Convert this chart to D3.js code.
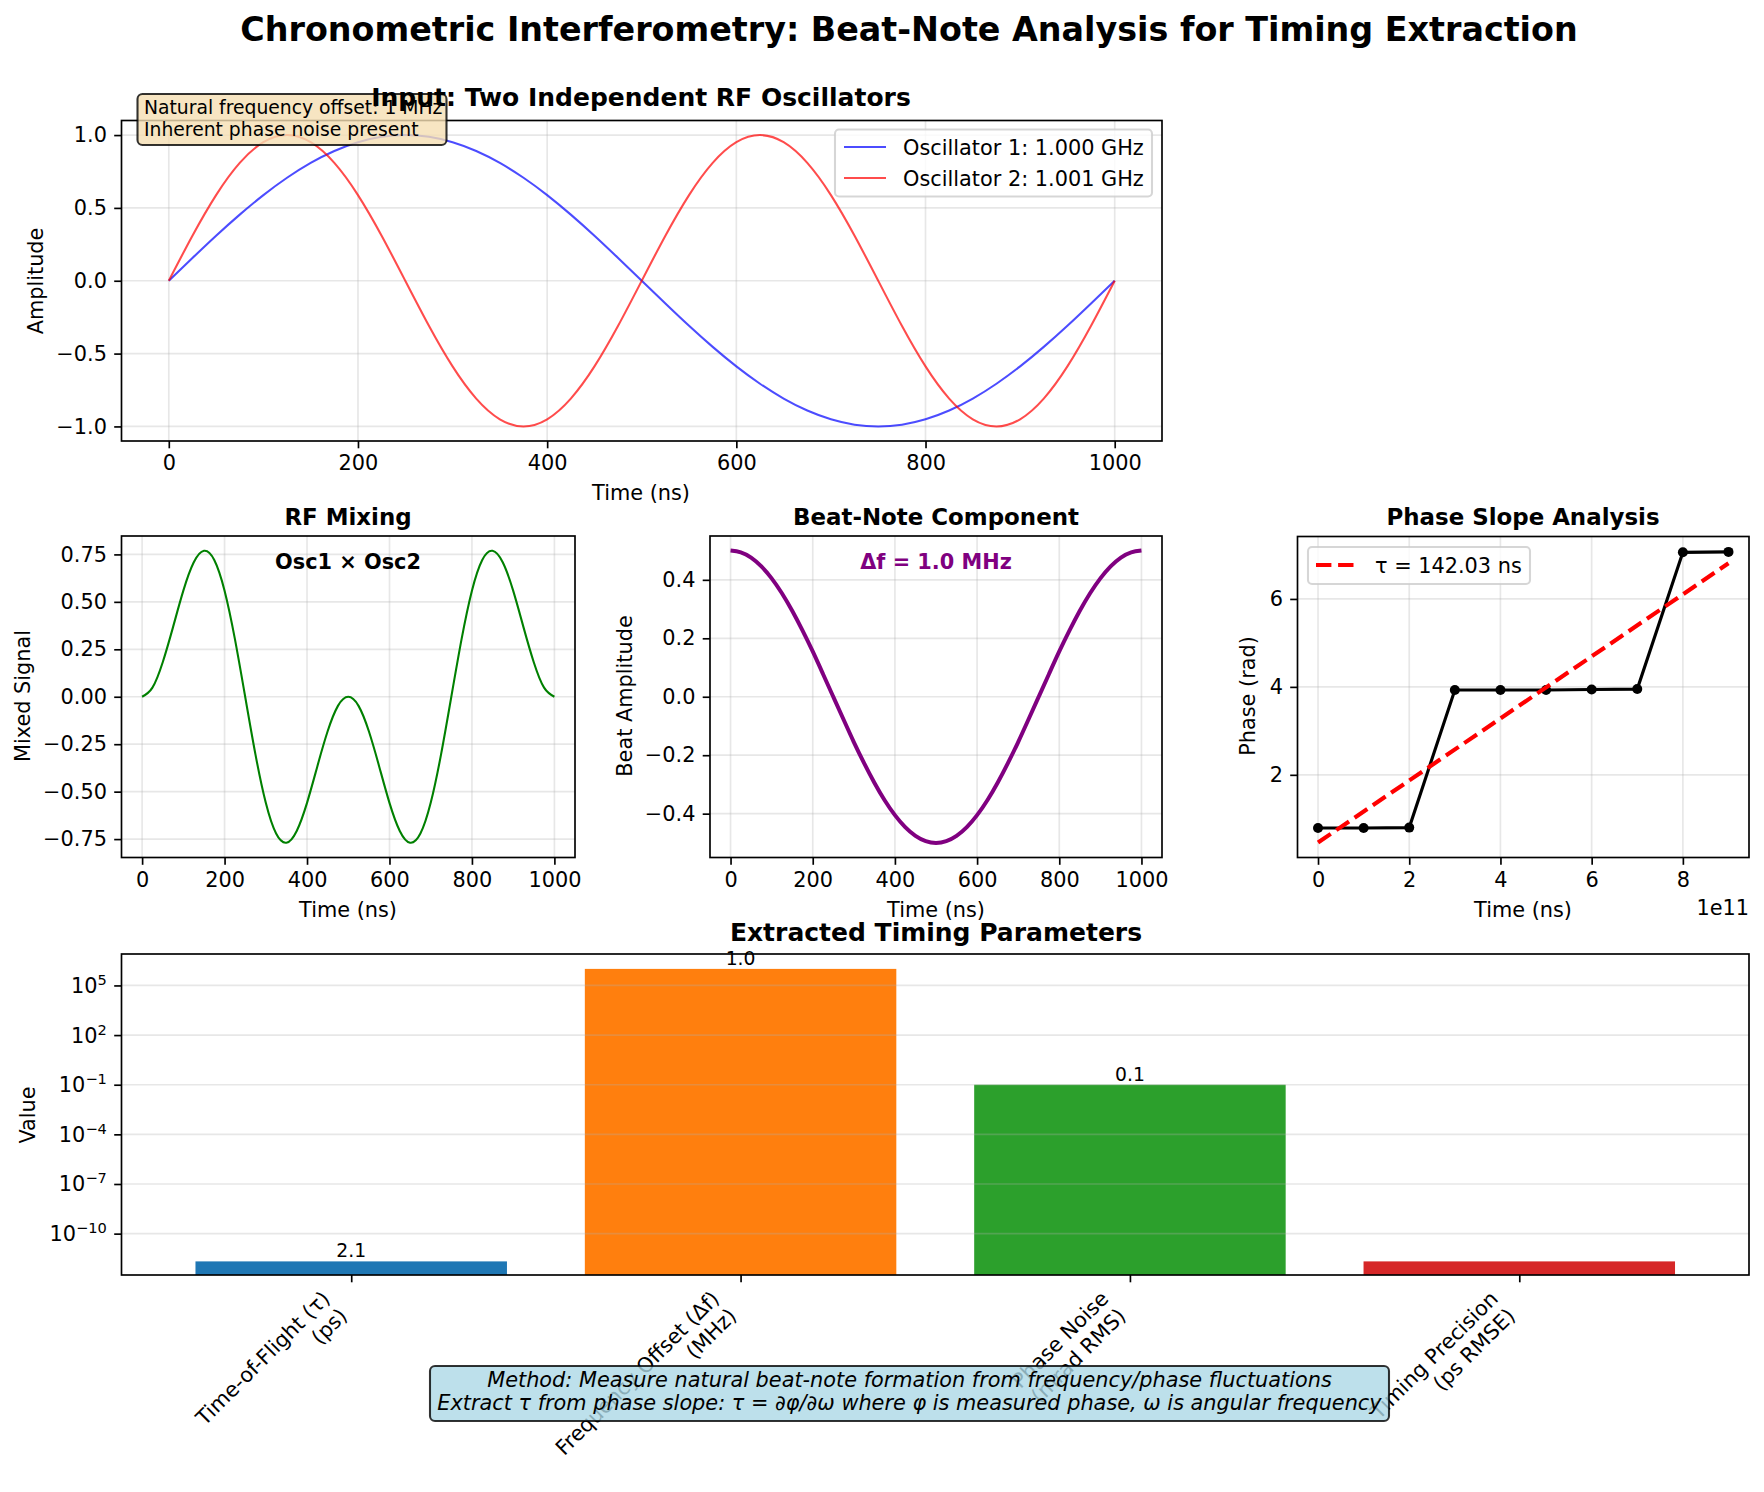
<!DOCTYPE html>
<html>
<head>
<meta charset="utf-8">
<script src="https://cdn.jsdelivr.net/npm/d3@7"></script>
<style>
  html, body { margin: 0; padding: 0; background: white; }
  svg { display: block; font-family: "DejaVu Sans", sans-serif; }
  text { fill: black; }
</style>
</head>
<body>
<script>
// values
const timeNs = [0, 25, 50, 75, 100, 125, 150, 175, 200, 225, 250, 275, 300, 325, 350, 375, 400, 425, 450, 475,
  500, 525, 550, 575, 600, 625, 650, 675, 700, 725, 750, 775, 800, 825, 850, 875, 900, 925, 950, 975, 1000];
const osc1 = [0, 0.156, 0.309, 0.454, 0.588, 0.707, 0.809, 0.891, 0.951, 0.988, 1, 0.988, 0.951, 0.891, 0.809, 0.707, 0.588, 0.454, 0.309, 0.156,
  0, -0.156, -0.309, -0.454, -0.588, -0.707, -0.809, -0.891, -0.951, -0.988, -1, -0.988, -0.951, -0.891, -0.809, -0.707, -0.588, -0.454, -0.309, -0.156, 0];
const osc2 = [0, 0.309, 0.588, 0.809, 0.951, 1, 0.951, 0.809, 0.588, 0.309, 0, -0.309, -0.588, -0.809, -0.951, -1, -0.951, -0.809, -0.588, -0.309,
  0, 0.309, 0.588, 0.809, 0.951, 1, 0.951, 0.809, 0.588, 0.309, 0, -0.309, -0.588, -0.809, -0.951, -1, -0.951, -0.809, -0.588, -0.309, 0];
const mixed = [0, 0.048, 0.182, 0.367, 0.559, 0.707, 0.769, 0.721, 0.559, 0.305, 0, -0.305, -0.559, -0.721, -0.769, -0.707, -0.559, -0.367, -0.182, -0.048,
  0, -0.048, -0.182, -0.367, -0.559, -0.707, -0.769, -0.721, -0.559, -0.305, 0, 0.305, 0.559, 0.721, 0.769, 0.707, 0.559, 0.367, 0.182, 0.048, 0];
const beat = [0.5, 0.494, 0.476, 0.446, 0.405, 0.354, 0.294, 0.227, 0.155, 0.078, 0, -0.078, -0.155, -0.227, -0.294, -0.354, -0.405, -0.446, -0.476, -0.494,
  -0.5, -0.494, -0.476, -0.446, -0.405, -0.354, -0.294, -0.227, -0.155, -0.078, 0, 0.078, 0.155, 0.227, 0.294, 0.354, 0.405, 0.446, 0.476, 0.494, 0.5];

const phaseX = [0, 1e11, 2e11, 3e11, 4e11, 5e11, 6e11, 7e11, 8e11, 9e11];
const phaseY = [0.79, 0.79, 0.80, 3.93, 3.93, 3.93, 3.94, 3.95, 7.06, 7.07];
const fitX = [0, 9e11];
const fitY = [0.46, 6.81];

const paramNames = [['Time-of-Flight (τ)', '(ps)'], ['Frequency Offset (Δf)', '(MHz)'], ['Phase Noise', '(mrad RMS)'], ['Timing Precision', '(ps RMSE)']];
const paramValues = [2.1e-12, 1e6, 0.1, 2.1e-12];
const paramLabels = ['2.1', '1.0', '0.1', ''];
const paramColors = ['#1f77b4', '#ff7f0e', '#2ca02c', '#d62728'];
const logTicks = [5, 2, -1, -4, -7, -10];

const svg = d3.select('body').append('svg')
    .attr('width', 1764)
    .attr('height', 1492);

const FS = 20.83;

function addText(g, x, y, str, size, opts) {
  opts = opts || {};
  return g.append('text')
      .attr('x', x)
      .attr('y', y)
      .attr('text-anchor', opts.anchor || 'middle')
      .attr('font-size', size)
      .attr('font-weight', opts.weight || 'normal')
      .attr('font-style', opts.style || 'normal')
      .style('fill', opts.color || 'black')
      .text(str);
}

function yLabel(x, y, str) {
  svg.append('text')
      .attr('transform', `translate(${x},${y}) rotate(-90)`)
      .attr('text-anchor', 'middle')
      .attr('font-size', FS)
      .text(str);
}

function drawAxes(box, xDomain, yDomain, xTicks, yTicks, xFmt, yFmt) {
  const x = d3.scaleLinear().domain(xDomain).range([box.l, box.r]);
  const y = d3.scaleLinear().domain(yDomain).range([box.b, box.t]);

  const grid = svg.append('g');
  grid.selectAll('line.v')
      .data(xTicks)
      .enter()
    .append('line')
      .attr('x1', d => x(d)).attr('x2', d => x(d))
      .attr('y1', box.t).attr('y2', box.b)
      .attr('stroke', '#b0b0b0').attr('stroke-opacity', 0.3).attr('stroke-width', 1.67);
  grid.selectAll('line.h')
      .data(yTicks)
      .enter()
    .append('line')
      .attr('x1', box.l).attr('x2', box.r)
      .attr('y1', d => y(d)).attr('y2', d => y(d))
      .attr('stroke', '#b0b0b0').attr('stroke-opacity', 0.3).attr('stroke-width', 1.67);

  return { x, y, xTicks, yTicks, xFmt, yFmt, box };
}

function finishAxes(a) {
  const gx = svg.append('g')
      .attr('transform', `translate(0,${a.box.b})`)
      .call(d3.axisBottom(a.x).tickValues(a.xTicks).tickFormat(a.xFmt).tickSize(7.3).tickPadding(7.3).tickSizeOuter(0));
  const gy = svg.append('g')
      .attr('transform', `translate(${a.box.l},0)`)
      .call(d3.axisLeft(a.y).tickValues(a.yTicks).tickFormat(a.yFmt).tickSize(7.3).tickPadding(7.3).tickSizeOuter(0));
  styleAxis(gx);
  styleAxis(gy);
  frame(a.box);
}

function styleAxis(g) {
  g.attr('font-family', null).attr('font-size', FS);
  g.select('.domain').remove();
  g.selectAll('line').attr('stroke', 'black').attr('stroke-width', 1.67);
}

function frame(box) {
  svg.append('rect')
      .attr('x', box.l).attr('y', box.t)
      .attr('width', box.r - box.l).attr('height', box.b - box.t)
      .attr('fill', 'none').attr('stroke', 'black').attr('stroke-width', 1.67);
}

function drawCurve(a, xs, ys, color, width, opacity) {
  const line = d3.line()
      .x(d => a.x(d[0]))
      .y(d => a.y(d[1]))
      .curve(d3.curveNatural);
  svg.append('path')
      .datum(d3.zip(xs, ys))
      .attr('fill', 'none')
      .attr('stroke', color)
      .attr('stroke-width', width)
      .attr('stroke-opacity', opacity || 1)
      .attr('d', line);
}

function legendBox(x, y, w, h) {
  svg.append('rect')
      .attr('x', x).attr('y', y).attr('width', w).attr('height', h)
      .attr('rx', 4).attr('ry', 4)
      .attr('fill', 'white').attr('fill-opacity', 0.8)
      .attr('stroke', '#cccccc').attr('stroke-opacity', 0.8).attr('stroke-width', 2.08);
}

// Figure title
addText(svg, 909, 41, 'Chronometric Interferometry: Beat-Note Analysis for Timing Extraction', 33.33, { weight: 'bold' });

// Input oscillators
const box1 = { l: 121.5, r: 1162, t: 120.5, b: 441 };
const a1 = drawAxes(box1, [-50, 1050], [-1.1, 1.1], [0, 200, 400, 600, 800, 1000], [-1, -0.5, 0, 0.5, 1], d => d, d3.format('.1f'));
drawCurve(a1, timeNs, osc1, 'blue', 2.08, 0.7);
drawCurve(a1, timeNs, osc2, 'red', 2.08, 0.7);
finishAxes(a1);
addText(svg, 641, 500, 'Time (ns)', FS);
yLabel(43, 281, 'Amplitude');

legendBox(835, 129.5, 317, 67);
[['blue', 'Oscillator 1: 1.000 GHz', 147], ['red', 'Oscillator 2: 1.001 GHz', 178]].forEach(l => {
  svg.append('line')
      .attr('x1', 844).attr('x2', 886).attr('y1', l[2]).attr('y2', l[2])
      .attr('stroke', l[0]).attr('stroke-opacity', 0.7).attr('stroke-width', 2.08);
  addText(svg, 903, l[2] + 7.5, l[1], FS, { anchor: 'start' });
});

svg.append('rect')
    .attr('x', 137.5).attr('y', 94).attr('width', 309).attr('height', 51)
    .attr('rx', 5).attr('ry', 5)
    .attr('fill', 'wheat').attr('fill-opacity', 0.8)
    .attr('stroke', 'black').attr('stroke-opacity', 0.8).attr('stroke-width', 2.08);
addText(svg, 144, 114, 'Natural frequency offset: 1 MHz', 18.75, { anchor: 'start' });
addText(svg, 144, 136, 'Inherent phase noise present', 18.75, { anchor: 'start' });
addText(svg, 641, 106, 'Input: Two Independent RF Oscillators', 25, { weight: 'bold' });

// RF mixing
const box2 = { l: 121.5, r: 575, t: 536, b: 857.5 };
const a2 = drawAxes(box2, [-50, 1050], [-0.847, 0.847], [0, 200, 400, 600, 800, 1000],
    [-0.75, -0.5, -0.25, 0, 0.25, 0.5, 0.75], d => d, d3.format('.2f'));
drawCurve(a2, timeNs, mixed, 'green', 2.08);
finishAxes(a2);
addText(svg, 348, 525, 'RF Mixing', 22.92, { weight: 'bold' });
addText(svg, 348, 917, 'Time (ns)', FS);
yLabel(30, 696, 'Mixed Signal');
addText(svg, 348, 569, 'Osc1 × Osc2', FS, { weight: 'bold' });

// Beat note
const box3 = { l: 710, r: 1162, t: 536, b: 857.5 };
const a3 = drawAxes(box3, [-50, 1050], [-0.55, 0.55], [0, 200, 400, 600, 800, 1000],
    [-0.4, -0.2, 0, 0.2, 0.4], d => d, d3.format('.1f'));
drawCurve(a3, timeNs, beat, 'purple', 4);
finishAxes(a3);
addText(svg, 936, 525, 'Beat-Note Component', 22.92, { weight: 'bold' });
addText(svg, 936, 917, 'Time (ns)', FS);
yLabel(632, 696, 'Beat Amplitude');
addText(svg, 936, 569, 'Δf = 1.0 MHz', FS, { weight: 'bold', color: 'purple' });

// Phase slope
const box4 = { l: 1297.5, r: 1749, t: 536.5, b: 857.5 };
const a4 = drawAxes(box4, [-0.45e11, 9.45e11], [0.12, 7.42], [0, 2e11, 4e11, 6e11, 8e11], [2, 4, 6], d => d / 1e11, d => d);
svg.append('path')
    .datum(d3.zip(phaseX, phaseY))
    .attr('fill', 'none')
    .attr('stroke', 'black')
    .attr('stroke-width', 3.125)
    .attr('d', d3.line().x(d => a4.x(d[0])).y(d => a4.y(d[1])));
svg.selectAll('circle.phase')
    .data(d3.zip(phaseX, phaseY))
    .enter()
  .append('circle')
    .attr('cx', d => a4.x(d[0]))
    .attr('cy', d => a4.y(d[1]))
    .attr('r', 5)
    .attr('fill', 'black');
svg.append('path')
    .datum(d3.zip(fitX, fitY))
    .attr('fill', 'none')
    .attr('stroke', 'red')
    .attr('stroke-width', 4.17)
    .attr('stroke-dasharray', '15.4,6.7')
    .attr('d', d3.line().x(d => a4.x(d[0])).y(d => a4.y(d[1])));
finishAxes(a4);
addText(svg, 1523, 525, 'Phase Slope Analysis', 22.92, { weight: 'bold' });
addText(svg, 1523, 917, 'Time (ns)', FS);
yLabel(1255, 696, 'Phase (rad)');
addText(svg, 1749, 915, '1e11', FS, { anchor: 'end' });
legendBox(1308, 547, 222, 37);
svg.append('line')
    .attr('x1', 1316).attr('x2', 1358).attr('y1', 565).attr('y2', 565)
    .attr('stroke', 'red').attr('stroke-width', 4.17).attr('stroke-dasharray', '15.4,6.7');
addText(svg, 1375, 572.5, 'τ = 142.03 ns', FS, { anchor: 'start' });

// Extracted parameters, log axis
const box5 = { l: 121.5, r: 1749, t: 954, b: 1275 };
const x5 = d3.scaleLinear().domain([-0.59, 3.59]).range([box5.l, box5.r]);
const y5 = d3.scaleLog().domain([Math.pow(10, -12.5), Math.pow(10, 6.9)]).range([box5.b, box5.t]);

svg.selectAll('rect.param')
    .data(paramValues)
    .enter()
  .append('rect')
    .attr('x', (d, i) => x5(i - 0.4))
    .attr('width', x5(0.8) - x5(0))
    .attr('y', d => y5(d))
    .attr('height', d => box5.b - y5(d))
    .attr('fill', (d, i) => paramColors[i]);

svg.selectAll('line.logGrid')
    .data(logTicks)
    .enter()
  .append('line')
    .attr('x1', box5.l).attr('x2', box5.r)
    .attr('y1', d => y5(Math.pow(10, d))).attr('y2', d => y5(Math.pow(10, d)))
    .attr('stroke', '#b0b0b0').attr('stroke-opacity', 0.3).attr('stroke-width', 1.67);

paramValues.forEach((v, i) => {
  addText(svg, x5(i), y5(v) - 4, paramLabels[i], 18.75);
});

const gx5 = svg.append('g')
    .attr('transform', `translate(0,${box5.b})`)
    .call(d3.axisBottom(x5).tickValues([0, 1, 2, 3]).tickFormat('').tickSize(7.3).tickSizeOuter(0));
styleAxis(gx5);
const gy5 = svg.append('g')
    .attr('transform', `translate(${box5.l},0)`)
    .call(d3.axisLeft(y5).tickValues(logTicks.map(d => Math.pow(10, d))).tickFormat('').tickSize(7.3).tickSizeOuter(0));
styleAxis(gy5);
frame(box5);

logTicks.forEach(p => {
  const t = svg.append('text')
      .attr('x', box5.l - 14.6)
      .attr('y', y5(Math.pow(10, p)) + 7.5)
      .attr('text-anchor', 'end')
      .attr('font-size', FS);
  t.append('tspan').text('10');
  t.append('tspan')
      .attr('dy', -8)
      .attr('font-size', 14.6)
      .text(String(p).replace('-', '−'));
});

paramNames.forEach((lines, i) => {
  const g = svg.append('g')
      .attr('transform', `translate(${x5(i) - 20},${box5.b + 25}) rotate(-45)`);
  lines.forEach((s, j) => addText(g, 0, j * 24.3, s, FS, { anchor: 'end' }));
});

addText(svg, 936, 941, 'Extracted Timing Parameters', 25, { weight: 'bold' });
yLabel(35, 1115, 'Value');

// Method note sits on top of the tick labels
svg.append('rect')
    .attr('x', 430).attr('y', 1366).attr('width', 959).attr('height', 55)
    .attr('rx', 5).attr('ry', 5)
    .attr('fill', 'lightblue').attr('fill-opacity', 0.8)
    .attr('stroke', 'black').attr('stroke-opacity', 0.8).attr('stroke-width', 2.08);
addText(svg, 909.5, 1387, 'Method: Measure natural beat-note formation from frequency/phase fluctuations', 20.83, { style: 'italic' });
addText(svg, 909.5, 1410, 'Extract τ from phase slope: τ = ∂φ/∂ω where φ is measured phase, ω is angular frequency', 20.83, { style: 'italic' });
</script>
</body>
</html>
